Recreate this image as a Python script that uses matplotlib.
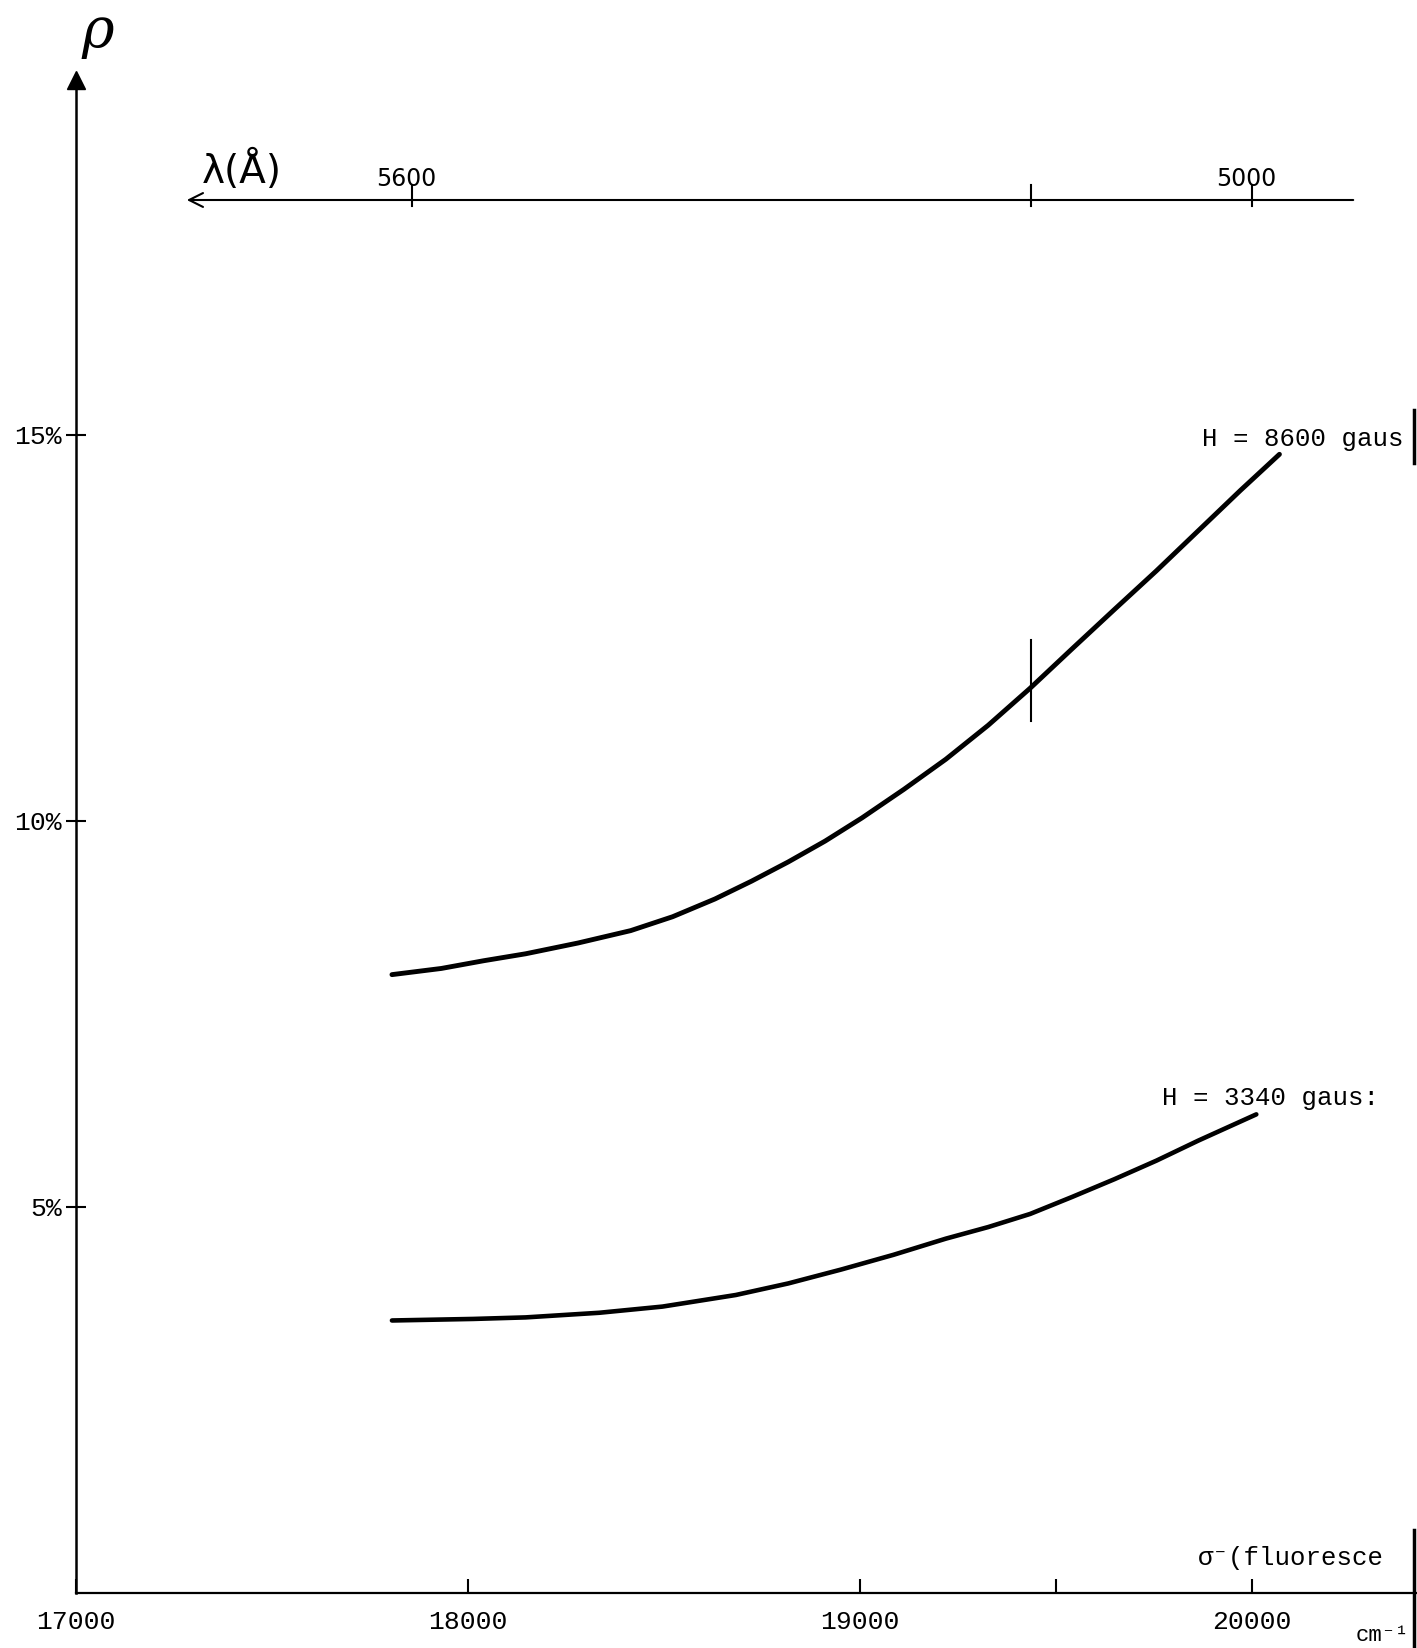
import matplotlib
matplotlib.use("Agg")
import matplotlib.pyplot as plt
from matplotlib.lines import Line2D

# ---- data ----
sigma_8600 = [17806, 17932, 18040, 18147, 18281, 18415, 18522, 18630, 18723, 18817, 18911,
              19005, 19112, 19219, 19327, 19434, 19541, 19649, 19756, 19863, 19970, 20070]
rho_8600 = [8.01, 8.09, 8.19, 8.28, 8.42, 8.58, 8.76, 8.99, 9.22, 9.47, 9.74,
            10.04, 10.41, 10.80, 11.24, 11.72, 12.23, 12.74, 13.24, 13.76, 14.28, 14.75]
sigma_3340 = [17806, 18013, 18147, 18335, 18496, 18683, 18817, 18952, 19085, 19219, 19327,
              19434, 19541, 19649, 19756, 19863, 20011]
rho_3340 = [3.53, 3.55, 3.57, 3.63, 3.71, 3.86, 4.01, 4.19, 4.38, 4.59, 4.74,
            4.91, 5.13, 5.36, 5.60, 5.86, 6.20]
x_ticks = [17000, 18000, 19000, 19500, 20000]
x_ticklabels = ["17000", "18000", "19000", "", "20000"]
y_ticks = [5, 10, 15]
y_ticklabels = ["5%", "10%", "15%"]
lam_ticks = [5600, 5145, 5000]
lam_labels = ["5600", "", "5000"]
laser_line = 5145  # Å

W, H = 1417, 1648
fig = plt.figure(figsize=(W / 100, H / 100), dpi=100)
fig.patch.set_facecolor("white")

left_px, bottom_px, top_px = 76, 1593, 80
ax = fig.add_axes([left_px / W, (H - bottom_px) / H, (W - left_px) / W, (bottom_px - top_px) / H])
px_per_unit_x = 392 / 1000.0
px_per_pct = 77.2
xmax = 17000 + (W - left_px) / px_per_unit_x
ymax = (bottom_px - top_px) / px_per_pct
ax.set_xlim(17000, xmax)
ax.set_ylim(0, ymax)
ax.patch.set_alpha(0)

for s in ["top", "right"]:
    ax.spines[s].set_visible(False)
ax.spines["left"].set_linewidth(1.8)
ax.spines["bottom"].set_linewidth(1.6)

mono = ["Liberation Mono", "DejaVu Sans Mono"]

ax.set_xticks(x_ticks)
ax.set_xticklabels(x_ticklabels, family=mono, fontsize=19)
ax.set_yticks(y_ticks)
ax.set_yticklabels(y_ticklabels, family=mono, fontsize=19)
ax.tick_params(axis="x", direction="in", length=10, width=1.5, pad=12)
ax.tick_params(axis="y", direction="inout", length=14, width=1.5, pad=3)

# curves
ax.plot(sigma_8600, rho_8600, color="black", lw=3.5, solid_capstyle="round", solid_joinstyle="round")
ax.plot(sigma_3340, rho_3340, color="black", lw=3.3, solid_capstyle="round", solid_joinstyle="round")

# laser line marker on upper curve
xl = 1e8 / laser_line
ax.plot([xl, xl], [11.3, 12.35], color="black", lw=1.5)

# y-axis arrowhead
ax.plot([17000], [ymax], marker="^", markersize=13, color="black", clip_on=False)
fig.text(98 / W, 1 - 32 / H, "ρ", fontsize=40, family="DejaVu Serif", style="italic",
         ha="center", va="center")

# top wavelength axis
lam_y = (bottom_px - 200) / px_per_pct
x_left = 17000 + (184 - left_px) / px_per_unit_x
x_right = 17000 + (1356 - left_px) / px_per_unit_x
ax.annotate("", xy=(x_left, lam_y), xytext=(x_right, lam_y),
            arrowprops=dict(arrowstyle="->", lw=1.5, color="black", mutation_scale=25))
for lt, ll in zip(lam_ticks, lam_labels):
    xt = 1e8 / lt
    ax.plot([xt, xt], [lam_y - 0.08, lam_y + 0.2], color="black", lw=1.5)
    if ll:
        ax.text(xt - 15, lam_y + 0.12, ll, family="DejaVu Sans", fontsize=17, ha="center", va="bottom")
ax.text(17320, lam_y + 0.12, "λ(Å)", family="DejaVu Sans", fontsize=28, ha="left", va="bottom")

# annotations (text is cut by the page edge in the original scan)
ax.text(19872, 14.95, "H = 8600 gaus", family=mono, fontsize=18.5, ha="left", va="center")
ax.text(19770, 6.41, "H = 3340 gaus:", family=mono, fontsize=18.5, ha="left", va="center")
ax.text(19862, 0.45, "σ⁻(fluoresce", family=mono, fontsize=18.5, ha="left", va="center")
ax.text(20265, -0.55, "cm⁻¹", family=mono, fontsize=16, ha="left", va="center", clip_on=False)

# scan edge marks at the right border
fig.add_artist(Line2D([1414 / W, 1414 / W], [1 - 410 / H, 1 - 463 / H], color="black", lw=2.5))
fig.add_artist(Line2D([1414 / W, 1414 / W], [1 - 1530 / H, 0.0], color="black", lw=2.5))

fig.savefig("out.png", dpi=100, facecolor="white")
